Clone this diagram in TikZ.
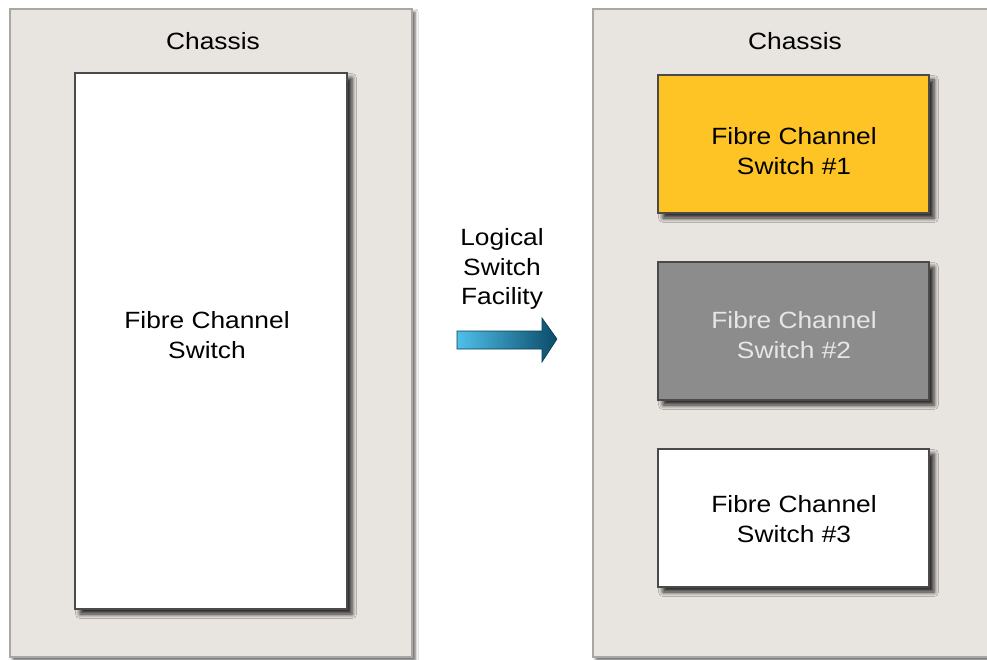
\documentclass[tikz,border=0pt]{standalone}
\usepackage{fontspec}
\setmainfont{Liberation Sans}[FakeStretch=1.12]
\usetikzlibrary{shadows.blur}
\definecolor{chassisfill}{HTML}{E8E4DF}
\definecolor{chassisline}{HTML}{AAA6A1}
\definecolor{switchline}{HTML}{4A4A4A}
\definecolor{swyellow}{HTML}{FEC325}
\definecolor{swgray}{HTML}{8C8C8C}
\definecolor{swgraytext}{HTML}{E6E6E6}
\definecolor{arrowlight}{HTML}{4FC0EA}
\definecolor{arrowdark}{HTML}{0B4B69}
\tikzset{
  chassis/.style={draw=chassisline, line width=1.6pt, fill=chassisfill,
    blur shadow={shadow xshift=3pt, shadow yshift=-3pt, shadow blur radius=3pt, shadow opacity=65}},
  switchbox/.style={draw=switchline, line width=1.2pt,
    blur shadow={shadow xshift=5pt, shadow yshift=-5pt, shadow blur radius=4.5pt, shadow opacity=85}},
  label/.style={font=\fontsize{23.5}{29.5}\selectfont, align=center, text=black},
}
\begin{document}
\begin{tikzpicture}[x=1pt, y=-1pt]
  \useasboundingbox (0,0) rectangle (987,660);
  \fill[white] (0,0) rectangle (987,660);
  \begin{scope}
    \clip (0,0) rectangle (987,660);
    % chassis frames
    \path[chassis] (10,9) rectangle (412,657);
    \path[chassis] (593,9) rectangle (1000,657);
    % switches
    \path[switchbox, fill=white] (75,73) rectangle (347,609);
    \path[switchbox, fill=swyellow] (658,75) rectangle (929,213);
    \path[switchbox, fill=swgray] (658,262) rectangle (929,400);
    \path[switchbox, fill=white] (658,449) rectangle (929,587);
  \end{scope}
  % labels
  \node[label] (chl) at (213,41) {Chassis};
  \node[label] (chr) at (795,41) {Chassis};
  \node[label] (fcs) at (207,335) {Fibre Channel\\Switch};
  \node[label] (fc1) at (794,151) {Fibre Channel\\Switch \#1};
  \node[label, text=swgraytext] (fc2) at (794,335) {Fibre Channel\\Switch \#2};
  \node[label] (fc3) at (794,519) {Fibre Channel\\Switch \#3};
  \node[label] (lsf) at (502,269) {Logical\\Switch\\Facility};
  % transition arrow
  \shade[left color=arrowlight, right color=arrowdark, draw=arrowdark!80!black, line width=0.6pt]
    (457,331) -- (542,331) -- (542,318) -- (557,339) -- (542,362) -- (542,349) -- (457,349) -- cycle;
\end{tikzpicture}
\end{document}
